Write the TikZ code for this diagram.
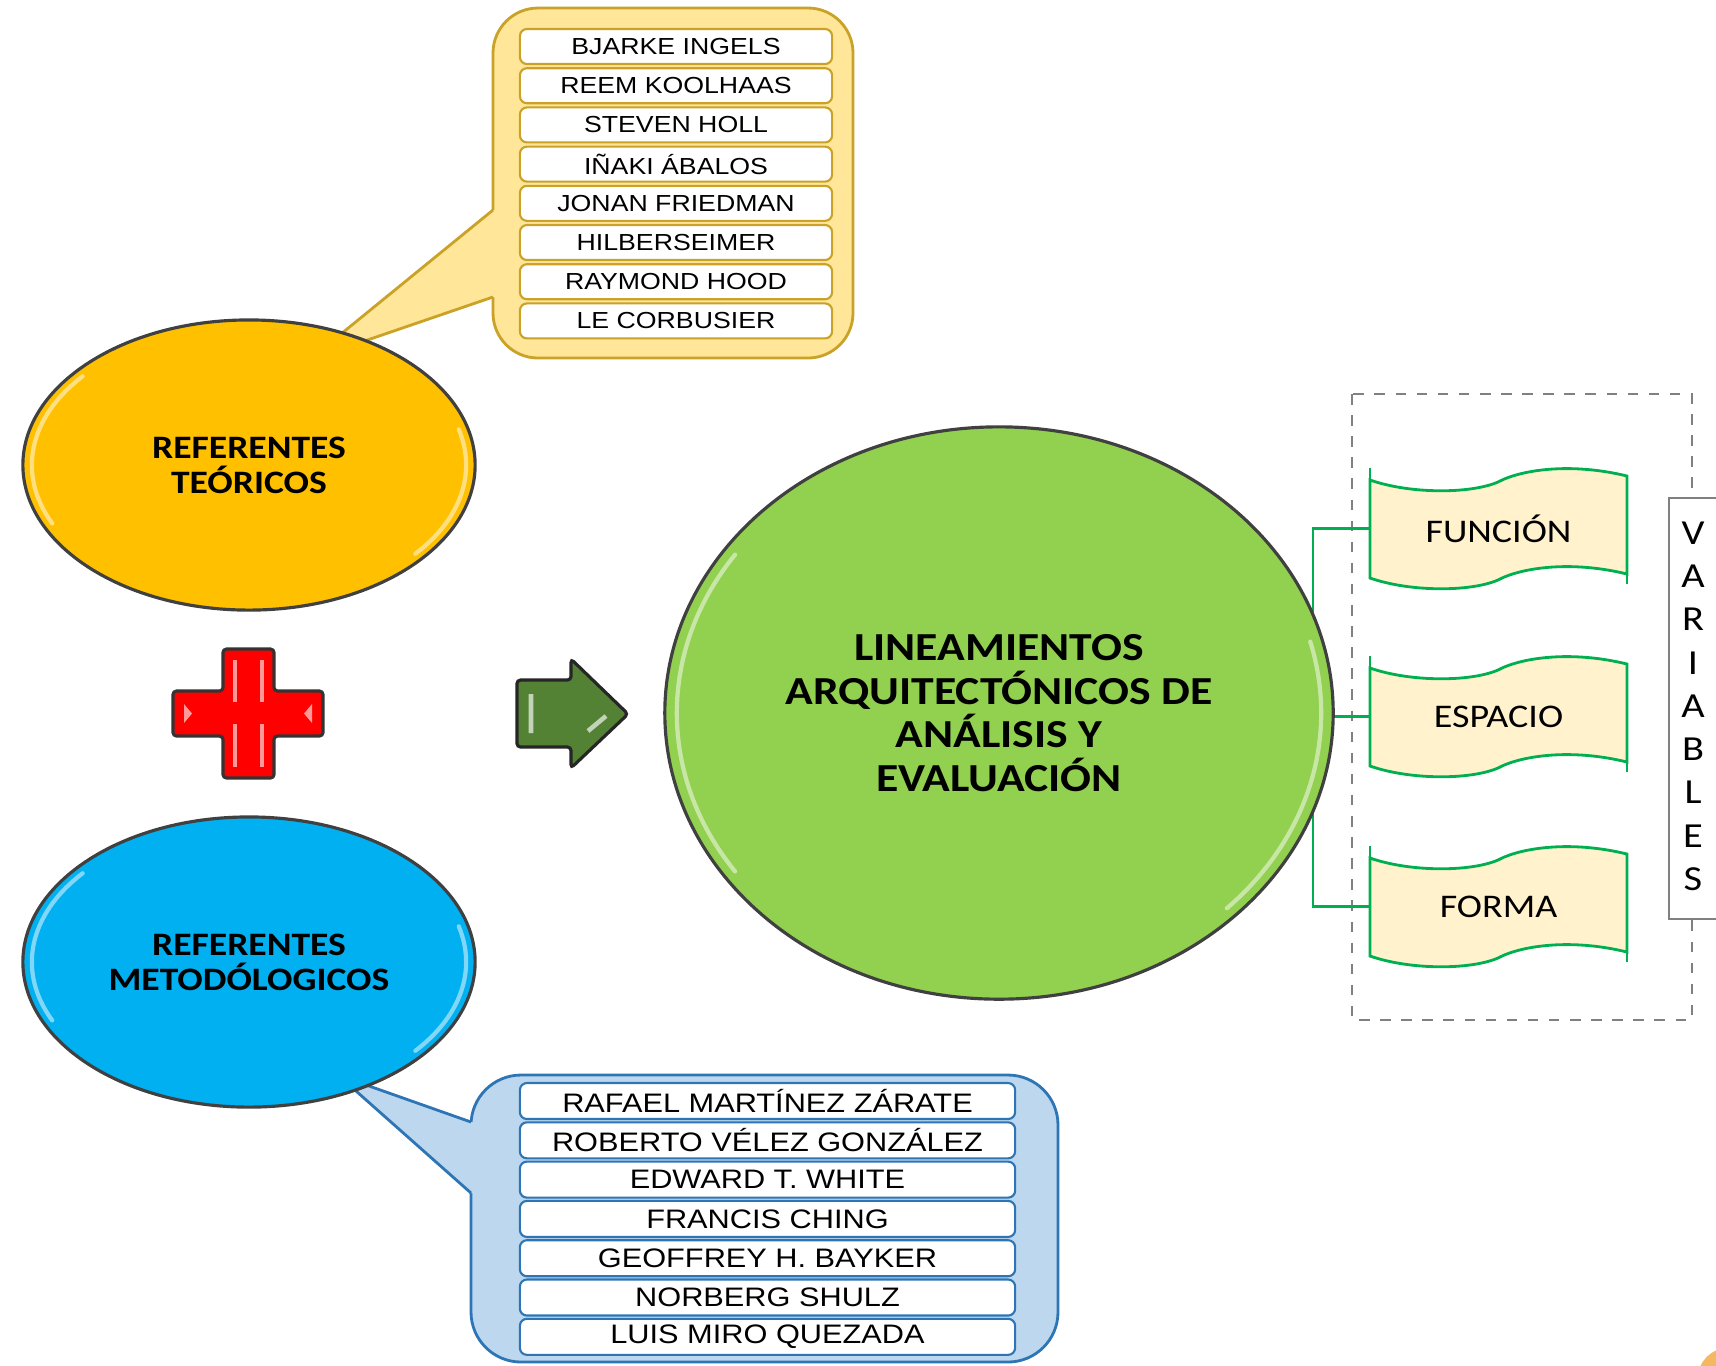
\documentclass[tikz,border=0pt]{standalone}
\usepackage{fontspec}
\setmainfont[FakeStretch=1.15]{Carlito}
\newfontfamily\listfont[FakeStretch=1.15]{Liberation Sans}
\usepackage{tikz}
\usetikzlibrary{shapes.geometric}
\usetikzlibrary{positioning}
\usetikzlibrary{calc}
\definecolor{refyellow}{HTML}{FFC000}
\definecolor{refblue}{HTML}{00B0F0}
\definecolor{refgreen}{HTML}{92D050}
\definecolor{callYfill}{HTML}{FFE699}
\definecolor{callYline}{HTML}{C9A227}
\definecolor{callBfill}{HTML}{BDD7EE}
\definecolor{callBline}{HTML}{2E75B6}
\definecolor{varline}{HTML}{00B050}
\definecolor{varfill}{HTML}{FFF2CC}
\definecolor{arrowgreen}{HTML}{548235}
\definecolor{blobc}{HTML}{F4B860}
\tikzstyle{refnode}=[ellipse,draw=black!75,line width=0.9pt,minimum width=4.52cm,minimum height=2.9cm,inner sep=0pt,align=center,font=\fontsize{9.3}{10}\selectfont\bfseries]
\tikzstyle{gloss}=[white,opacity=0.5,line width=1.2pt,line cap=round]
\tikzstyle{callY}=[fill=callYfill,draw=callYline,line width=0.8pt]
\tikzstyle{callB}=[fill=callBfill,draw=callBline,line width=0.8pt]
\tikzstyle{nameY}=[draw=callYline,fill=white,rounded corners=2pt,line width=0.6pt,minimum width=3.12cm,minimum height=0.35cm,inner sep=0pt,font=\listfont\fontsize{6.6}{7}\selectfont]
\tikzstyle{nameB}=[draw=callBline,fill=white,rounded corners=2pt,line width=0.6pt,minimum width=4.95cm,minimum height=0.36cm,inner sep=0pt,font=\listfont\fontsize{7.6}{8}\selectfont]
\tikzstyle{banner}=[minimum width=2.57cm,minimum height=1.21cm,inner sep=0pt,font=\fontsize{9.4}{10}\selectfont]
\tikzstyle{bannerline}=[draw=varline,fill=varfill,line width=0.8pt]
\tikzstyle{conn}=[draw=varline,line width=0.8pt]
\newcommand{\wavebox}[2]{%
  \begin{scope}[shift={(#1,#2)}]
    \draw[bannerline] (0,12) .. controls (40,26) and (100,26) .. (128,14) .. controls (150,2) and (200,-6) .. (257,8)
      -- (257,106) .. controls (200,92) and (150,100) .. (128,112) .. controls (100,124) and (40,124) .. (0,110) -- cycle;
    \draw[conn] (0,0) -- (0,12) (257,106) -- (257,116);
  \end{scope}}

\begin{document}
\begin{tikzpicture}[x=0.01cm,y=-0.01cm]
\useasboundingbox (0,0) rectangle (1716,1365);

\draw[callY] (493,8) [rounded corners=0.45cm] rectangle (853,358);
\fill[callYfill] (309,360) -- (493,210) -- (497,210) -- (497,297) -- (493,297) -- cycle;
\draw[callYline,line width=0.8pt] (493,210) -- (309,360) -- (493,297);
\foreach \t [count=\i] in {BJARKE INGELS,REEM KOOLHAAS,STEVEN HOLL,IÑAKI ÁBALOS,JONAN FRIEDMAN,HILBERSEIMER,RAYMOND HOOD,LE CORBUSIER}
  \node[nameY] (y\i) at (676,{7.3+39.2*\i}) {\t};

\draw[callB] (471,1075) [rounded corners=0.5cm] rectangle (1058,1362);
\fill[callBfill] (338,1075) -- (471,1122) -- (475,1122) -- (475,1193) -- (471,1193) -- cycle;
\draw[callBline,line width=0.8pt] (471,1122) -- (338,1075) -- (471,1193);
\foreach \t [count=\i] in {RAFAEL MARTÍNEZ ZÁRATE,ROBERTO VÉLEZ GONZÁLEZ,EDWARD T. WHITE,FRANCIS CHING,GEOFFREY H. BAYKER,NORBERG SHULZ,LUIS MIRO QUEZADA}
  \node[nameB] (b\i) at (767.5,{1061.7+39.3*\i}) {\t};

\node[refnode,fill=refyellow] (teo) at (249,465) {REFERENTES\\TEÓRICOS};
\draw[gloss] ([shift={(140:2.17cm and 1.38cm)}]teo.center) arc[start angle=140,end angle=205,x radius=2.17cm,y radius=1.38cm];
\draw[gloss] ([shift={(-40:2.17cm and 1.38cm)}]teo.center) arc[start angle=-40,end angle=15,x radius=2.17cm,y radius=1.38cm];
\node[refnode,fill=refblue] (met) at (249,962) {REFERENTES\\METODÓLOGICOS};
\draw[gloss] ([shift={(140:2.17cm and 1.38cm)}]met.center) arc[start angle=140,end angle=205,x radius=2.17cm,y radius=1.38cm];
\draw[gloss] ([shift={(-40:2.17cm and 1.38cm)}]met.center) arc[start angle=-40,end angle=15,x radius=2.17cm,y radius=1.38cm];

\draw[fill=red,draw=black!80,line width=0.9pt,rounded corners=1pt] (223,649) -- (274,649) -- (274,691) -- (323,691) -- (323,736) -- (274,736) -- (274,778) -- (223,778) -- (223,736) -- (173,736) -- (173,691) -- (223,691) -- cycle;
\draw[red!40!white,line width=1.1pt] (235,660) -- (235,702) (262,660) -- (262,702) (235,724) -- (235,767) (262,724) -- (262,767);
\fill[red!40!white] (184,704) -- (192,713.5) -- (184,723) -- cycle (312,704) -- (304,713.5) -- (312,723) -- cycle;

\draw[fill=arrowgreen,draw=black!85,line width=0.9pt,rounded corners=1pt] (517,680) -- (571,680) -- (571,659) -- (628,714) -- (571,768) -- (571,747) -- (517,747) -- cycle;
\draw[arrowgreen!35!white,line width=1.3pt] (531,694) -- (531,733) (588,731) -- (606,716);

\draw[gray,dashed,line width=0.6pt] (1352,394) rectangle (1692,1020);
\coordinate (bus) at (1313,713);
\wavebox{1370}{468}
\node[banner] (fun) at (1498.5,528.5) {FUNCIÓN};
\wavebox{1370}{656}
\node[banner] (esp) at (1498.5,716.5) {ESPACIO};
\wavebox{1370}{846}
\node[banner] (for) at (1498.5,906.5) {FORMA};
\draw[conn] (fun.west) -| (bus) |- (for.west);
\draw[conn] (esp.west) -- (esp.west -| bus);

\node[ellipse,draw=black!75,line width=0.9pt,fill=refgreen,minimum width=6.68cm,minimum height=5.72cm,inner sep=0pt,align=center,font=\fontsize{11.3}{12.35}\selectfont\bfseries] (lin) at (999,713) {LINEAMIENTOS\\ARQUITECTÓNICOS DE\\ANÁLISIS Y\\EVALUACIÓN};
\draw[gloss] ([shift={(145:3.22cm and 2.76cm)}]lin.center) arc[start angle=145,end angle=215,x radius=3.22cm,y radius=2.76cm];
\draw[gloss] ([shift={(-45:3.22cm and 2.76cm)}]lin.center) arc[start angle=-45,end angle=15,x radius=3.22cm,y radius=2.76cm];

\node[draw=black!50,fill=white,line width=0.6pt,minimum width=0.62cm,minimum height=4.21cm,inner sep=0pt] (vars) at (1700,708.5) {};
\foreach \l [count=\i] in {V,A,R,I,A,B,L,E,S}
  \node[font=\fontsize{10}{10}\selectfont] (v\i) at (1693,{489.75+43.25*\i}) {\l};

\fill[blobc] (1728,1378) circle (0.3cm);
\end{tikzpicture}
\end{document}
